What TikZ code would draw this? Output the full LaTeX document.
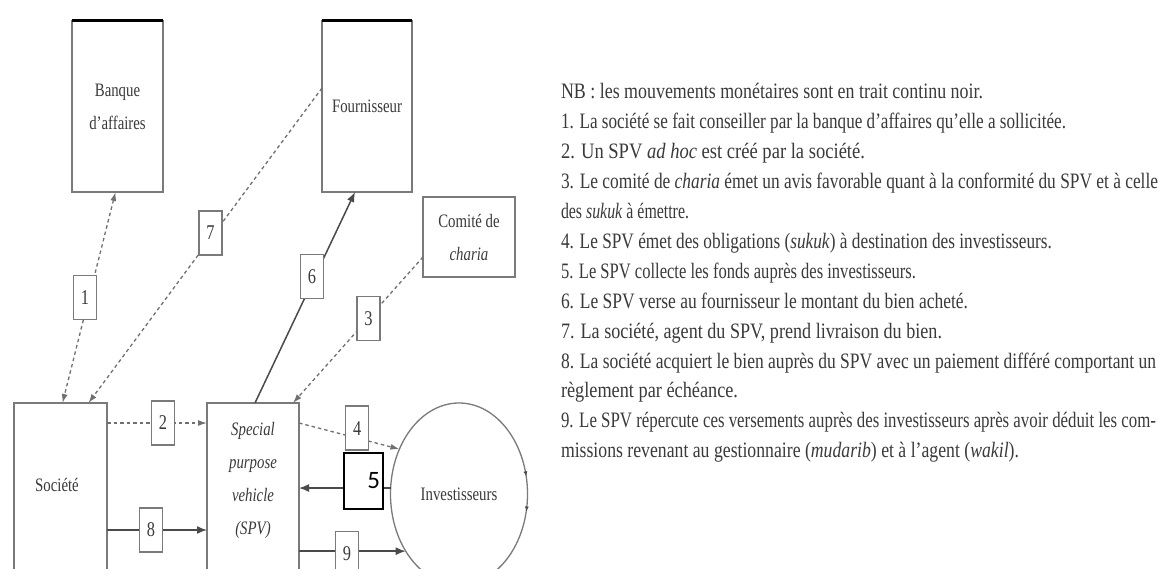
\documentclass[tikz,border=0pt]{standalone}
\usepackage{fontspec}
\usepackage{graphicx}
\setmainfont{Liberation Serif}
\newfontfamily\tfont{Liberation Serif}
\newfontfamily\dfont[FakeStretch=0.78]{Liberation Serif}
\newfontfamily\cfont{Carlito}
\newcommand{\fitw}[2]{\resizebox{#1pt}{\height}{#2}}
\usetikzlibrary{arrows.meta,decorations.markings,shapes.geometric}
\definecolor{txtgray}{HTML}{3A3A3A}
\definecolor{boxgray}{HTML}{7A7A7A}
\definecolor{linegray}{HTML}{707070}
\definecolor{solidgray}{HTML}{4A4A4A}
\begin{document}
\begin{tikzpicture}[x=1pt,y=-1pt,
  every node/.style={inner sep=0pt,outer sep=0pt},
  box/.style={draw=boxgray,line width=1.3pt,fill=white,anchor=north west,
    font=\dfont\fontsize{19}{33}\selectfont,text=txtgray,align=center},
  numbox/.style={draw=boxgray,solid,line width=1.3pt,fill=white,minimum width=23pt,
    minimum height=44pt,font=\dfont\fontsize{21}{21}\selectfont,text=txtgray},
  dasharrow/.style={draw=linegray,line width=1.3pt,dash pattern=on 3.5pt off 3pt,
    -{Latex[length=9pt,width=6pt]}},
  dashboth/.style={dasharrow,{Latex[length=9pt,width=6pt]}-{Latex[length=9pt,width=6pt]}},
  solidarrow/.style={draw=solidgray,line width=1.5pt,-{Latex[length=10pt,width=8pt]}},
  topbar/.style={line width=3pt,black},
  note/.style={anchor=base west,font=\tfont\fontsize{22}{22}\selectfont,text=txtgray}]
\useasboundingbox (0,0) rectangle (1161,569);
\clip (0,0) rectangle (1161,569);
\fill[white] (0,0) rectangle (1161,569);

% boxes
\node[box,minimum width=91pt,minimum height=171pt] (banque) at (72,21) {Banque\\d’affaires};
\draw[topbar] (banque.north west) -- (banque.north east);
\node[box,minimum width=90pt,minimum height=171pt] (four) at (322,21) {Fournisseur};
\draw[topbar] (four.north west) -- (four.north east);
\node[box,minimum width=92pt,minimum height=80pt] (com) at (423,197) {Comité de\\\textit{charia}};
\node[box,minimum width=93pt,minimum height=200pt] (soc) at (14,403) {};
\node[font=\dfont\fontsize{19}{19}\selectfont,text=txtgray] (soctxt) at (57,485) {Société};
\node[box,minimum width=92pt,minimum height=200pt] (spv) at (207,403) {};
\node[font=\dfont\itshape\fontsize{19}{33}\selectfont,text=txtgray,align=center] (spvtxt) at (253,480)
  {Special\\purpose\\vehicle\\(SPV)};
\node[draw=boxgray,line width=1.3pt,ellipse,minimum width=137pt,minimum height=182pt,
  font=\dfont\fontsize{19}{19}\selectfont,text=txtgray,
  postaction={decorate,decoration={markings,
    mark=at position 0.045 with {\arrow[solidgray]{Latex[length=5pt,width=4pt,reversed]}},
    mark=at position 0.975 with {\arrow[solidgray]{Latex[length=5pt,width=4pt,reversed]}}}}]
  (inv) at (459,494) {Investisseurs};

% connectors
\draw[dashboth] ([xshift=-2pt]banque.south) -- node[numbox,pos=0.5,xshift=-4pt] (n1) {1} ([xshift=2pt]soc.north);
\draw[dasharrow] ([yshift=18.5pt]four.west) -- node[numbox,pos=0.46,xshift=-4pt] (n7) {7} ([xshift=28pt]soc.north);
\draw[solidarrow] ([xshift=2pt]spv.north) -- node[numbox,pos=0.6,xshift=-3pt] (n6) {6} ([xshift=-12pt]four.south);
\draw[dasharrow] ([yshift=-20pt]com.west) -- node[numbox,pos=0.42] (n3) {3} ([xshift=-6pt]spv.north east);
\draw[dasharrow] ([yshift=-20pt]soc.north east) -- node[numbox,pos=0.56] (n2) {2} ([yshift=-20pt]spv.north west);
\draw[solidarrow] ([yshift=-127pt]soc.north east) -- node[numbox,pos=0.44] (n8) {8} ([yshift=-127pt]spv.north west);
\draw[dasharrow] ([yshift=-20pt]spv.north east) -- node[numbox,pos=0.58,yshift=10pt] (n4) {4} (inv.143);
\draw[solidarrow] (inv.175) -- (spv.east |- inv.175);
\node[draw=black,line width=1.5pt,fill=white,minimum width=39pt,minimum height=56pt,
  font=\cfont\fontsize{25}{25}\selectfont,text=black,align=right,text width=33pt] (n5) at (363.5,481) {5};
\draw[solidarrow] (spv.east |- inv.227.6) -- node[numbox,pos=0.45,yshift=-2pt] (n9) {9} (inv.227.6);

% notes
\node[note] (t0) at (561,99) {\fitw{422}{NB : les mouvements monétaires sont en trait continu noir.}};
\node[note] (t1) at (561,129) {\fitw{505}{1. La société se fait conseiller par la banque d’affaires qu’elle a sollicitée.}};
\node[note] (t2) at (561,159) {\fitw{304}{2. Un SPV \textit{ad hoc} est créé par la société.}};
\node[note] (t3) at (561,189) {\fitw{597}{3. Le comité de \textit{charia} émet un avis favorable quant à la conformité du SPV et à celle}};
\node[note] (t4) at (561,219) {\fitw{128}{des \textit{sukuk} à émettre.}};
\node[note] (t5) at (561,248) {\fitw{491}{4. Le SPV émet des obligations (\textit{sukuk}) à destination des investisseurs.}};
\node[note] (t6) at (561,278) {\fitw{355}{5. Le SPV collecte les fonds auprès des investisseurs.}};
\node[note] (t7) at (561,308) {\fitw{407}{6. Le SPV verse au fournisseur le montant du bien acheté.}};
\node[note] (t8) at (561,338) {\fitw{381}{7. La société, agent du SPV, prend livraison du bien.}};
\node[note] (t9) at (561,368) {\fitw{595}{8. La société acquiert le bien auprès du SPV avec un paiement différé comportant un}};
\node[note] (t10) at (561,397) {\fitw{177}{règlement par échéance.}};
\node[note] (t11) at (561,427) {\fitw{595}{9. Le SPV répercute ces versements auprès des investisseurs après avoir déduit les com-}};
\node[note] (t12) at (561,457) {\fitw{458}{missions revenant au gestionnaire (\textit{mudarib}) et à l’agent (\textit{wakil}).}};
\end{tikzpicture}
\end{document}
